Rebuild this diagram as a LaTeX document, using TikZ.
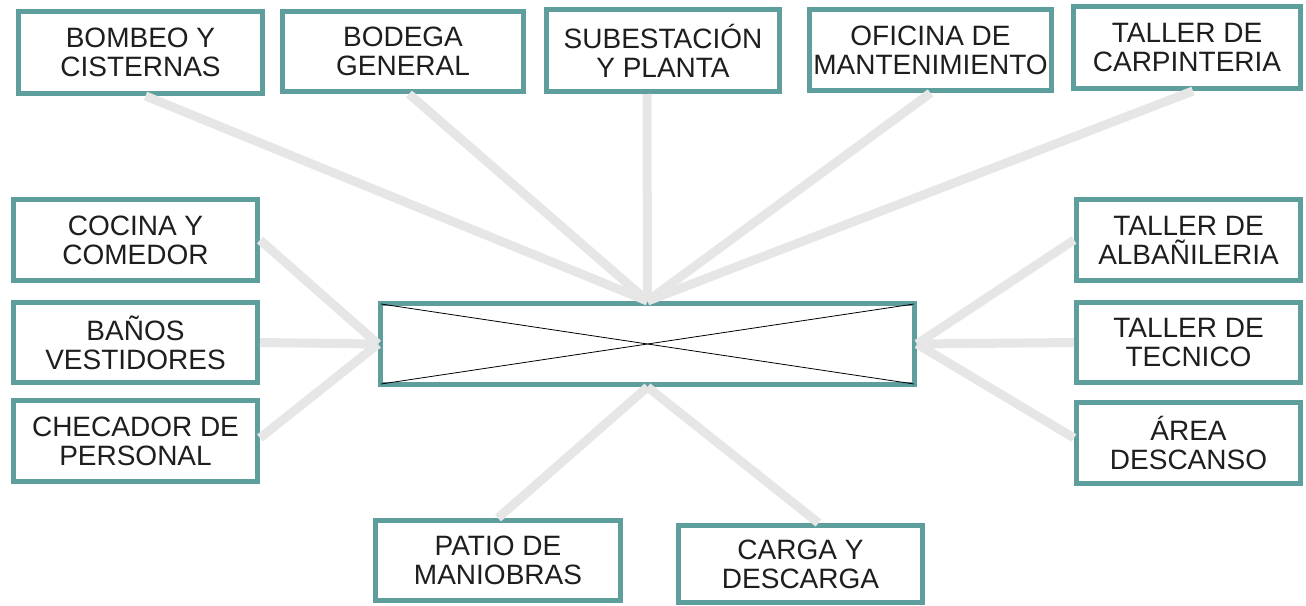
\documentclass[tikz,border=0pt]{standalone}
\usepackage{fontspec}
\setmainfont{Liberation Sans}
\usetikzlibrary{calc}
\definecolor{bordeteal}{HTML}{5E9F9D}
\definecolor{grisenlace}{HTML}{E6E6E6}
\definecolor{textoarea}{HTML}{1E1E1E}
\tikzset{
  area/.style={draw=bordeteal,line width=5pt,fill=white,align=center,inner sep=0pt,
    text=textoarea,font=\fontsize{28}{29}\selectfont},
  enlace/.style={draw=grisenlace,line width=9pt}
}
\begin{document}
\begin{tikzpicture}[x=1pt,y=-1pt]
          \useasboundingbox (0,0) rectangle (1306,605);
          % Nodes
          \node[area,minimum width=534,minimum height=81] (hub) at (647.5,344) {};
          \draw[black,line width=0.8pt] ($(hub.north west)+(3,3)$) -- ($(hub.south east)+(-3,-3)$);
          \draw[black,line width=0.8pt] ($(hub.south west)+(3,-3)$) -- ($(hub.north east)+(-3,3)$);

          \node[area,minimum width=244,minimum height=82] (bombeo) at (140.5,52.5) {BOMBEO Y\\CISTERNAS};
          \node[area,minimum width=241,minimum height=80] (bodega) at (403,51.5) {BODEGA\\GENERAL};
          \node[area,minimum width=233,minimum height=82] (subest) at (663,50.5) {SUBESTACIÓN\\Y PLANTA};
          \node[area,minimum width=242,minimum height=81] (oficina) at (930.5,50) {OFICINA DE\\MANTENIMIENTO};
          \node[area,minimum width=227,minimum height=82] (carpint) at (1187,47.5) {TALLER DE\\CARPINTERIA};

          \node[area,minimum width=244,minimum height=81] (cocina) at (135.5,240) {COCINA Y\\COMEDOR};
          \node[area,minimum width=244,minimum height=80] (banos) at (135.5,342.5) {BAÑOS\\VESTIDORES};
          \node[area,minimum width=244,minimum height=81] (checador) at (135.5,441) {CHECADOR DE\\PERSONAL};

          \node[area,minimum width=224,minimum height=81] (albanil) at (1188.5,240) {TALLER DE\\ALBAÑILERIA};
          \node[area,minimum width=224,minimum height=80] (tecnico) at (1188.5,342.5) {TALLER DE\\TECNICO};
          \node[area,minimum width=224,minimum height=81] (descanso) at (1188.5,443) {ÁREA\\DESCANSO};

          \node[area,minimum width=245,minimum height=80] (patio) at (498,560.5) {PATIO DE\\MANIOBRAS};
          \node[area,minimum width=244,minimum height=77] (carga) at (800.5,564) {CARGA Y\\DESCARGA};

          % Connectors: top
          \draw[enlace] ($(bombeo.south)+(5,0)$) -- (hub.north);
          \draw[enlace] ($(bodega.south)+(6,0)$) -- (hub.north);
          \draw[enlace] ($(subest.south)+(-16,0)$) -- (hub.north);
          \draw[enlace] (oficina.south) -- (hub.north);
          \draw[enlace] ($(carpint.south)+(6,0)$) -- (hub.north);

          % Connectors: left and right
          \draw[enlace] (cocina.east) -- (hub.west);
          \draw[enlace] (banos.east) -- (hub.west);
          \draw[enlace] ($(checador.east)+(0,-3)$) -- (hub.west);
          \draw[enlace] (albanil.west) -- (hub.east);
          \draw[enlace] (tecnico.west) -- (hub.east);
          \draw[enlace] ($(descanso.west)+(0,-5)$) -- (hub.east);

          % Connectors: bottom
          \draw[enlace] (patio.north) -- (hub.south);
          \draw[enlace] ($(carga.north)+(18,0)$) -- (hub.south);

        \end{tikzpicture}
\end{document}
